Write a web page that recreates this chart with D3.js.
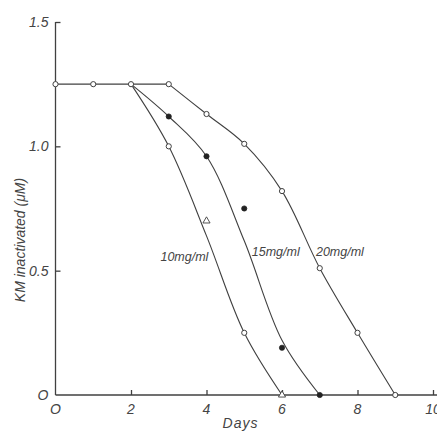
<!DOCTYPE html>
<html>
<head>
<meta charset="utf-8">
<script src="https://cdn.jsdelivr.net/npm/d3@7"></script>
<style>
  html, body { margin: 0; padding: 0; background: #fff; }
  svg text { font-family: "Liberation Sans", "DejaVu Sans", sans-serif; font-style: italic; fill: #444; }
</style>
</head>
<body>
<svg id="chart" width="437" height="431"></svg>
<script>
// Measured points: KM inactivated (µM) against days, three enzyme concentrations
const plateauDays = [0, 1, 2, 3];
const plateauValues = [1.25, 1.25, 1.25, 1.25];

const days10 = [3, 4, 5, 6];
const values10 = [1.00, 0.70, 0.25, 0];
const shapes10 = ["circle", "triangle", "circle", "triangle"];

const days15 = [3, 4, 5, 6, 7];
const values15 = [1.12, 0.96, 0.75, 0.19, 0];

const days20 = [4, 5, 6, 7, 8, 9];
const values20 = [1.13, 1.01, 0.82, 0.51, 0.25, 0];

// Smooth fitted curves (knot days and values)
const curveDays10 = [2, 3, 4, 5, 6];
const curveValues10 = [1.25, 1.00, 0.64, 0.25, 0];
const curveDays15 = [2, 3, 4, 5, 6, 7];
const curveValues15 = [1.25, 1.12, 0.96, 0.62, 0.22, 0];
const curveDays20 = [3, 4, 5, 6, 7, 8, 9];
const curveValues20 = [1.25, 1.13, 1.01, 0.82, 0.51, 0.25, 0];

const seriesLabels = ["10mg/ml", "15mg/ml", "20mg/ml"];
const xTicks = [0, 2, 4, 6, 8, 10];
const xTickLabels = ["O", "2", "4", "6", "8", "10"];
const yTicks = [0, 0.5, 1.0, 1.5];
const yTickLabels = ["O", "0.5", "1.0", "1.5"];

const svg = d3.select("#chart");
const ink = "#404040";

const x = d3.scaleLinear().domain([0, 10]).range([55.5, 433]);
const y = d3.scaleLinear().domain([0, 1.5]).range([395, 22]);

// Axes: ticks point inward, labels placed separately
const xAxis = d3.axisBottom(x).tickValues(xTicks.slice(1)).tickSize(-5).tickFormat("");
const yAxis = d3.axisLeft(y).tickValues(yTicks.slice(1)).tickSize(-5).tickFormat("");

svg.append("g").attr("transform", `translate(0,${y(0)})`).call(xAxis)
  .call(g => g.select(".domain").attr("d", `M${x(0)},0H437`))
  .call(g => g.selectAll("path,line").attr("stroke", ink).attr("stroke-width", 1.3));
svg.append("g").attr("transform", `translate(${x(0)},0)`).call(yAxis)
  .call(g => g.select(".domain").attr("d", `M0,${y(0)}V${y(1.5)}`))
  .call(g => g.selectAll("path,line").attr("stroke", ink).attr("stroke-width", 1.3));

// Tick labels
svg.append("g").selectAll("text").data(xTicks).join("text")
  .attr("x", d => x(d)).attr("y", y(0) + 19)
  .attr("text-anchor", "middle").attr("font-size", 14)
  .text((d, i) => xTickLabels[i]);
svg.append("g").selectAll("text").data(yTicks).join("text")
  .attr("x", x(0) - 7).attr("y", d => y(d) + 5)
  .attr("text-anchor", "end").attr("font-size", 14)
  .text((d, i) => yTickLabels[i]);

svg.append("text").attr("x", x(4.9)).attr("y", 428)
  .attr("text-anchor", "middle").attr("font-size", 14).attr("letter-spacing", 1)
  .text("Days");
svg.append("text").attr("transform", `translate(25,${240}) rotate(-90)`)
  .attr("text-anchor", "middle").attr("font-size", 14)
  .text("KM inactivated (\u03BCM)");

// Lines
const line = d3.line().x(d => x(d[0])).y(d => y(d[1]));
const smooth = d3.line().x(d => x(d[0])).y(d => y(d[1])).curve(d3.curveCatmullRom.alpha(0.5));
const zip = (a, b) => a.map((v, i) => [v, b[i]]);

svg.append("path").datum(zip(plateauDays, plateauValues))
  .attr("d", line).attr("fill", "none").attr("stroke", ink).attr("stroke-width", 1.1);
[[curveDays10, curveValues10], [curveDays15, curveValues15], [curveDays20, curveValues20]]
  .forEach(([dd, vv]) => {
    svg.append("path").datum(zip(dd, vv))
      .attr("d", smooth).attr("fill", "none").attr("stroke", ink).attr("stroke-width", 1.1);
  });

// Markers
const r = 2.6;
function openCircle(px, py) {
  svg.append("circle").attr("cx", px).attr("cy", py).attr("r", r)
    .attr("fill", "#fff").attr("stroke", ink).attr("stroke-width", 1);
}
function filledCircle(px, py) {
  svg.append("circle").attr("cx", px).attr("cy", py).attr("r", r)
    .attr("fill", "#222").attr("stroke", "#222").attr("stroke-width", 0.8);
}
function triangle(px, py) {
  svg.append("path")
    .attr("d", d3.symbol(d3.symbolTriangle, 22)())
    .attr("transform", `translate(${px},${py})`)
    .attr("fill", "#fff").attr("stroke", ink).attr("stroke-width", 0.9);
}

plateauDays.forEach((d, i) => openCircle(x(d), y(plateauValues[i])));
days10.forEach((d, i) => shapes10[i] === "triangle" ? triangle(x(d), y(values10[i])) : openCircle(x(d), y(values10[i])));
days15.forEach((d, i) => filledCircle(x(d), y(values15[i])));
days20.forEach((d, i) => openCircle(x(d), y(values20[i])));

// Series labels next to their curves
const labelPos = [[x(4.05), 261, "end"], [x(5.2), 256, "start"], [x(6.9), 256, "start"]];
labelPos.forEach(([px, py, anchor], i) => {
  svg.append("text").attr("x", px).attr("y", py).attr("text-anchor", anchor)
    .attr("font-size", 12.5).text(seriesLabels[i]);
});
</script>
</body>
</html>
